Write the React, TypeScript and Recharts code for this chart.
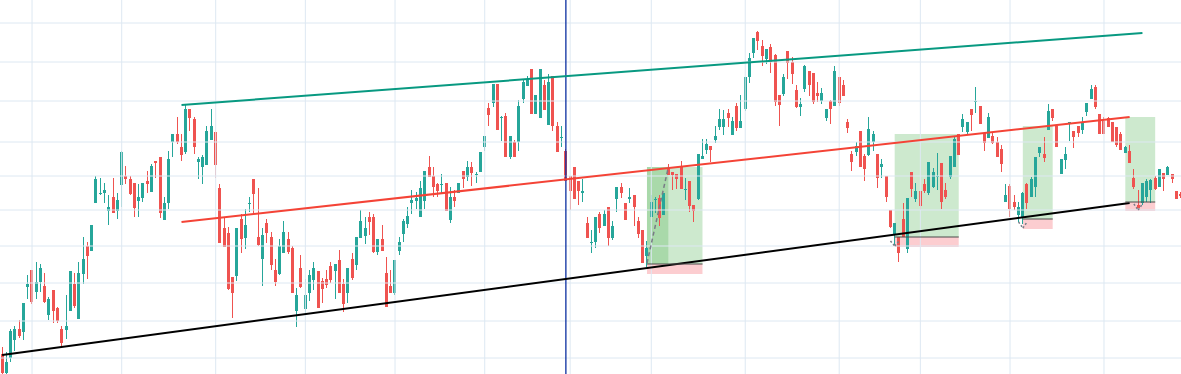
import React from 'react';
import { ComposedChart, Bar, XAxis, YAxis, ReferenceLine, ReferenceArea } from 'recharts';

const opens = [
  20,1,16,34,45,42,87,104,82,92,
  88,59,84,66,45,44,63,90,55,100,
  128,123,171,180,181,163,177,163,189,198,
  195,191,173,176,193,182,213,217,154,171,
  232,240,227,222,265,255,212,207,209,234,
  242,186,146,141,97,98,155,136,170,195,
  137,115,151,137,104,100,121,135,126,63,
  106,65,81,94,103,93,95,108,103,114,
  90,81,115,109,136,138,157,157,122,135,
  101,88,81,123,140,150,171,173,157,173,
  207,198,190,189,191,154,177,181,203,197,
  207,199,202,227,266,271,290,256,258,217,
  232,232,275,288,305,260,256,289,249,298,
  248,236,223,198,207,193,181,151,131,132,
  160,148,167,136,175,187,171,175,179,153,
  144,118,157,174,176,159,206,202,200,207,
  184,193,169,175,215,224,228,234,247,247,
  261,239,268,246,265,297,321,342,328,315,
  327,319,279,280,323,312,284,267,285,303,
  301,281,273,256,273,268,297,289,252,220,
  222,243,218,219,232,220,207,198,164,140,
  137,155,125,202,175,183,190,181,187,197,
  211,184,197,207,240,247,242,265,272,268,
  241,236,238,232,225,172,188,172,159,157,
  190,177,187,221,220,244,265,248,200,214,
  251,243,248,244,262,275,287,260,253,256,
  252,247,240,221,223,196,169,171,177,184,
  196,187,201,199,200,183,180,
];

const highs = [
  27,22,45,48,54,71,99,104,112,110,
  101,77,84,67,48,79,103,101,112,137,
  132,149,198,196,191,179,196,181,223,208,
  198,191,190,191,203,210,213,217,177,223,
  240,257,240,270,265,257,217,219,248,265,
  242,190,156,147,97,146,160,165,177,195,
  186,146,155,142,115,135,153,142,128,86,
  119,95,104,112,103,96,104,112,110,124,
  95,106,121,137,164,157,162,160,135,149,
  117,104,114,137,155,167,184,182,193,203,
  218,207,191,200,191,187,184,191,203,213,
  212,202,222,238,271,290,290,258,261,238,
  234,274,295,298,305,279,305,294,300,298,
  252,248,225,198,207,193,195,157,144,157,
  162,164,167,153,187,191,171,186,179,157,
  144,133,179,177,179,181,210,202,200,213,
  196,193,169,220,235,235,228,248,265,264,
  265,257,271,279,297,321,336,343,334,325,
  330,320,279,300,323,317,289,276,309,303,
  301,292,286,265,274,308,297,294,255,223,
  232,243,220,257,243,220,215,198,164,151,
  137,171,176,202,191,183,195,212,206,221,
  211,191,218,238,240,260,252,265,287,268,
  241,261,242,237,229,190,190,179,172,182,
  191,197,217,227,237,270,265,248,215,227,
  252,243,248,257,271,289,289,260,257,257,
  252,247,242,228,229,205,184,191,195,195,
  198,205,201,208,200,183,182,
];

const lows = [
  0,0,12,23,36,34,75,70,75,82,
  71,54,51,51,27,35,63,66,55,90,
  95,123,171,179,171,149,161,155,167,190,
  179,157,157,172,181,182,196,156,154,165,
  217,230,213,220,243,220,195,190,209,234,
  196,131,127,84,56,93,121,125,162,160,
  128,88,131,104,88,99,121,120,81,47,
  86,59,73,84,66,71,86,91,75,81,
  62,71,94,104,136,130,139,121,119,123,
  67,81,79,119,132,146,160,165,157,165,
  197,177,177,181,163,151,167,181,186,193,
  188,191,202,223,248,267,244,233,217,215,
  217,223,271,288,260,260,256,264,249,243,
  222,227,193,164,175,169,172,136,121,126,
  141,148,128,134,162,176,154,171,148,136,
  111,107,157,161,148,159,199,184,185,185,
  174,162,152,174,215,220,212,231,244,239,
  247,239,243,246,263,291,316,324,308,310,
  301,268,248,278,295,290,266,258,282,278,
  270,272,270,253,250,268,268,278,241,203,
  218,207,193,218,223,186,196,172,146,129,
  112,137,121,177,172,164,181,179,186,184,
  165,175,195,207,219,242,240,243,261,250,
  223,236,230,217,202,172,157,164,152,150,
  165,177,177,217,212,244,253,227,200,205,
  233,226,237,240,258,275,265,240,240,247,
  232,227,224,221,211,185,166,169,172,171,
  184,187,183,199,191,175,176,
];

const closes = [
  1,12,43,45,38,71,90,72,92,106,
  72,75,63,53,31,48,103,68,101,115,
  118,149,195,181,184,167,161,174,222,195,
  180,166,177,191,190,208,211,161,171,215,
  240,232,219,265,256,227,215,217,243,248,
  209,131,127,85,81,146,135,149,171,180,
  129,139,141,109,92,128,142,122,81,79,
  87,79,99,106,66,85,89,94,110,81,
  70,106,96,137,153,146,152,122,135,123,
  67,81,114,132,153,158,174,176,186,203,
  197,187,183,190,163,177,173,191,195,207,
  201,200,222,238,259,290,244,257,217,238,
  217,268,292,295,260,279,305,264,292,248,
  222,237,193,183,175,183,183,136,132,157,
  146,160,136,148,187,181,154,177,167,140,
  111,126,172,175,156,181,199,199,195,185,
  185,168,163,220,218,230,224,238,255,255,
  256,253,246,253,297,316,336,333,318,325,
  312,272,269,297,311,300,267,270,308,289,
  272,278,281,265,265,303,271,278,246,212,
  228,207,205,245,240,196,210,177,147,151,
  121,137,176,185,183,168,183,212,202,198,
  172,177,218,235,219,255,252,259,273,250,
  231,257,231,217,210,179,165,167,167,181,
  171,195,217,227,216,263,256,227,215,220,
  252,237,241,252,271,285,267,240,240,247,
  232,229,224,227,211,187,166,191,193,194,
  185,205,195,207,195,175,178,
];

// horizontal grid levels and vertical grid bars (bar indices)
const gridPrices = [351, 312, 273, 232, 198, 164, 128, 91, 53, 16];
const gridBars = [7, 28, 50, 71, 92, 113, 133, 152, 174, 196, 215, 236, 258];

// trend lines: [bar, price]
const channelTop = [{ x: 42, y: 269 }, { x: 267, y: 341 }];
const channelMid = [{ x: 42, y: 152 }, { x: 264, y: 257 }];
const channelLow = [{ x: 0, y: 19 }, { x: 264, y: 171 }];
const markerBar = 132;

// long position boxes
const posFrom = [151, 209, 239, 263];
const posTo = [164, 224, 246, 270];
const posTarget = [207, 240, 248, 257];
const posEntry = [110, 137, 155, 172];
const posStop = [100, 127, 145, 163];

const pathLine = [{ x: 151, y: 111 }, { x: 156, y: 207 }];
const arrowTips = [
  { bar: 209, tip: 128, arm: 133 },
  { bar: 239, tip: 146, arm: 152 },
  { bar: 266, tip: 164, arm: 170 },
];

const UP = '#26a69a';
const DOWN = '#ef5350';

const data = opens.map((o, i) => ({
  i,
  o,
  h: highs[i],
  l: lows[i],
  c: closes[i],
  range: [lows[i], highs[i]],
}));

const Candle = (props: any) => {
  const { x, y, width, height, payload } = props;
  if (!payload) return null;
  const { o, h, l, c } = payload;
  const top = Math.min(y, y + height);
  const span = Math.abs(height);
  const k = h > l ? span / (h - l) : 0;
  const bTop = top + (h - Math.max(o, c)) * k;
  const bBot = top + (h - Math.min(o, c)) * k;
  const cx = Math.floor(x + width / 2);
  const color = c >= o ? UP : DOWN;
  return (
    <g>
      <rect x={cx} y={top} width={1} height={Math.max(1, span)} fill={color} />
      <rect x={cx - 1} y={bTop} width={3} height={Math.max(1, bBot - bTop)} fill={color} />
    </g>
  );
};

const insetRect = (fill: string, opacity: number) => (p: any) => (
  <rect
    x={p.x + 2.1}
    y={p.y}
    width={Math.max(0, p.width - 4.3)}
    height={p.height}
    fill={fill}
    fillOpacity={opacity}
  />
);

export default function App() {
  return (
    <div style={{ position: 'absolute', left: 0, top: 0, width: 1181, height: 374, overflow: 'hidden', background: '#fff' }}>
      <ComposedChart
        width={1183}
        height={374}
        data={data}
        margin={{ top: 0, right: 0, bottom: 0, left: 0 }}
        barCategoryGap={0}
        barGap={0}
      >
        <XAxis dataKey="i" type="category" hide />
        <YAxis type="number" domain={[0, 374]} hide allowDataOverflow />
        {gridPrices.map((p) => (
          <ReferenceLine key={'h' + p} y={p} stroke="#dde8f2" strokeWidth={1} />
        ))}
        {gridBars.map((b) => (
          <ReferenceLine key={'v' + b} x={b} stroke="#dde8f2" strokeWidth={1} />
        ))}
        <Bar dataKey="range" shape={<Candle />} isAnimationActive={false} />
        <ReferenceLine x={markerBar} stroke="#0b2fa0" strokeWidth={1.3} />
        <ReferenceLine segment={channelLow} stroke="#000000" strokeWidth={2} />
        <ReferenceLine segment={channelMid} stroke="#f44336" strokeWidth={2} />
        <ReferenceLine segment={channelTop} stroke="#089981" strokeWidth={2} />
        {posFrom.map((f, k) => (
          <ReferenceArea
            key={'g' + k}
            x1={f}
            x2={posTo[k]}
            y1={posEntry[k]}
            y2={posTarget[k]}
            shape={insetRect('#4caf50', 0.28)}
          />
        ))}
        <ReferenceArea x1={151} x2={156} y1={posEntry[0]} y2={posTarget[0]} shape={insetRect('#4caf50', 0.28)} />
        {posFrom.map((f, k) => (
          <ReferenceArea
            key={'r' + k}
            x1={f}
            x2={posTo[k]}
            y1={posStop[k]}
            y2={posEntry[k]}
            shape={insetRect('#f23645', 0.25)}
          />
        ))}
        {posFrom.map((f, k) => (
          <ReferenceLine
            key={'e' + k}
            segment={[{ x: f, y: posEntry[k] }, { x: posTo[k], y: posEntry[k] }]}
            stroke="#4a4a4a"
            strokeWidth={1}
          />
        ))}
        <ReferenceLine segment={pathLine} stroke="#787b86" strokeWidth={1.5} strokeDasharray="4 3" />
        {arrowTips.map((a, k) => (
          <ReferenceLine
            key={'al' + k}
            segment={[{ x: a.bar - 1, y: a.arm }, { x: a.bar, y: a.tip }]}
            stroke="#787b86"
            strokeWidth={1.5}
            strokeDasharray="2 2"
          />
        ))}
        {arrowTips.map((a, k) => (
          <ReferenceLine
            key={'ar' + k}
            segment={[{ x: a.bar, y: a.tip }, { x: a.bar + 1, y: a.arm }]}
            stroke="#787b86"
            strokeWidth={1.5}
            strokeDasharray="2 2"
          />
        ))}
      </ComposedChart>
    </div>
  );
}
